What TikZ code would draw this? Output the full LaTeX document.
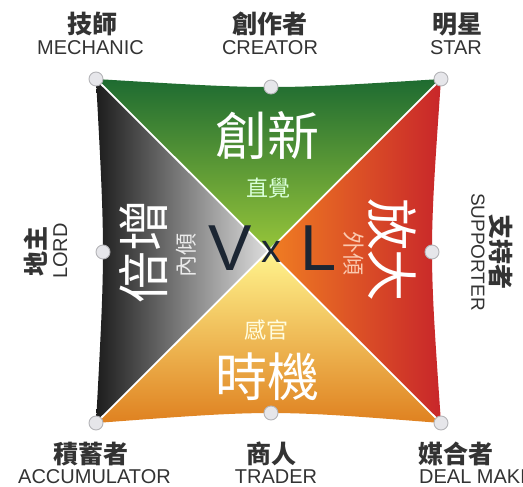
\documentclass[tikz,border=0pt]{standalone}
\usepackage{fontspec}
\setmainfont{Liberation Sans}
\newfontfamily\cjk{Noto Sans CJK TC}
\definecolor{labgray}{HTML}{333333}
\definecolor{topdark}{HTML}{1E6B31}
\definecolor{topmid}{HTML}{4E982F}
\definecolor{toplight}{HTML}{97C53A}
\definecolor{botlight}{HTML}{FFF58E}
\definecolor{botmid}{HTML}{F9D42C}
\definecolor{botdark}{HTML}{DF8120}
\definecolor{leftdark}{HTML}{1C1C1C}
\definecolor{leftmid}{HTML}{7A7A7A}
\definecolor{leftlight}{HTML}{DEDEDE}
\definecolor{rightlight}{HTML}{F07E22}
\definecolor{rightmid}{HTML}{E14E26}
\definecolor{rightdark}{HTML}{C8262A}
\definecolor{dotfill}{HTML}{E6E6EA}
\definecolor{dotline}{HTML}{B4B4B8}
\definecolor{vxl}{HTML}{1C2633}
\tikzset{
  cjklab/.style={font=\cjk\bfseries\fontsize{25}{30}\selectfont, text=labgray, anchor=base, inner sep=0pt},
  enlab/.style={font=\fontsize{20}{24}\selectfont, text=labgray, anchor=base, inner sep=0pt},
  bigtxt/.style={font=\cjk\fontsize{52}{60}\selectfont, text=white, anchor=base, inner sep=0pt},
  smalltxt/.style={font=\cjk\fontsize{22}{26}\selectfont, anchor=base, inner sep=0pt},
  hdot/.style={circle, minimum size=14pt, inner sep=0pt, fill=dotfill, draw=dotline, line width=0.9pt},
  sep/.style={white, line width=1.8pt},
}
\begin{document}
\begin{tikzpicture}[x=1pt,y=-1pt]
\useasboundingbox (0,0) rectangle (523,487);
% geometry
\coordinate (TL) at (96,79);
\coordinate (TR) at (441,79);
\coordinate (BR) at (441,423);
\coordinate (BL) at (96,423);
\coordinate (TM) at (271,87);
\coordinate (RM) at (432,252);
\coordinate (BM) at (271,413);
\coordinate (LM) at (103,252);
\coordinate (O) at (268.5,251);
% quadrants
\shade[top color=topdark, middle color=topmid, bottom color=toplight]
  (TL) -- (O) -- (TR) .. controls (271.8,89.7) .. (TL) -- cycle;
\shade[left color=rightlight, middle color=rightmid, right color=rightdark]
  (TR) -- (O) -- (BR) .. controls (429,251) .. (TR) -- cycle;
\shade[top color=botlight, middle color=botmid, bottom color=botdark]
  (BR) -- (O) -- (BL) .. controls (271.8,409.7) .. (BR) -- cycle;
\shade[left color=leftdark, middle color=leftmid, right color=leftlight]
  (BL) -- (O) -- (TL) .. controls (105.3,251) .. (BL) -- cycle;
% dots
\node[hdot] (d1) at (TL) {};
\node[hdot] (d2) at (TM) {};
\node[hdot] (d3) at (TR) {};
\node[hdot] (d4) at (RM) {};
\node[hdot] (d5) at (BR) {};
\node[hdot] (d6) at (BM) {};
\node[hdot] (d7) at (BL) {};
\node[hdot] (d8) at (LM) {};
% separators
\draw[sep] (d1) -- (O);
\draw[sep] (d3) -- (O);
\draw[sep] (d5) -- (O);
\draw[sep] (d7) -- (O);
% center texts
\node[bigtxt] (tinn) at (267.5,156) {創新};
\node[smalltxt, text=white!85!green] (tint) at (268.5,196.5) {直覺};
\node[bigtxt] (ttim) at (267.5,396) {時機};
\node[smalltxt, text=white!88!yellow] (tsen) at (266.5,338.5) {感官};
\node[bigtxt, rotate=90] (tmul) at (163,251) {倍增};
\node[smalltxt, text=white!92!black, rotate=90] (tint2) at (194.4,255) {內傾};
\node[bigtxt, rotate=-90] (tamp) at (372,250) {放大};
\node[smalltxt, text={rgb,255:red,250;green,200;blue,175}, rotate=-90] (text2) at (345.6,253) {外傾};
\node[font=\fontsize{65}{70}\selectfont, text=vxl, anchor=base, inner sep=0pt] (V) at (230,270) {V};
\node[font=\fontsize{40}{44}\selectfont, text=vxl, anchor=base, inner sep=0pt] (X) at (271.5,262) {x};
\node[font=\fontsize{65}{70}\selectfont, text=vxl, anchor=base west, inner sep=0pt] (L) at (300,270) {L};
% outer labels
\node[cjklab] (l1) at (92.5,33.5) {技師};
\node[enlab] (e1) at (90.5,54.7) {MECHANIC};
\node[cjklab] (l2) at (270,33.5) {創作者};
\node[enlab] (e2) at (270,54.7) {CREATOR};
\node[cjklab] (l3) at (457,33.5) {明星};
\node[enlab] (e3) at (456,54.7) {STAR};
\node[cjklab] (l4) at (91,463.5) {積蓄者};
\node[enlab] (e4) at (94.5,483) {ACCUMULATOR};
\node[cjklab] (l5) at (271,463.5) {商人};
\node[enlab] (e5) at (276,483) {TRADER};
\node[cjklab] (l6) at (456,463.5) {媒合者};
\node[enlab, anchor=base west] (e6) at (419,483) {DEAL MAKER};
\node[cjklab, rotate=90] (l7) at (45.5,251) {地主};
\node[enlab, rotate=90] (e7) at (67.2,251) {LORD};
\node[cjklab, rotate=-90] (l8) at (491.5,252) {支持者};
\node[enlab, font=\fontsize{19}{23}\selectfont, rotate=-90] (e8) at (471.3,252) {SUPPORTER};
\end{tikzpicture}
\end{document}
